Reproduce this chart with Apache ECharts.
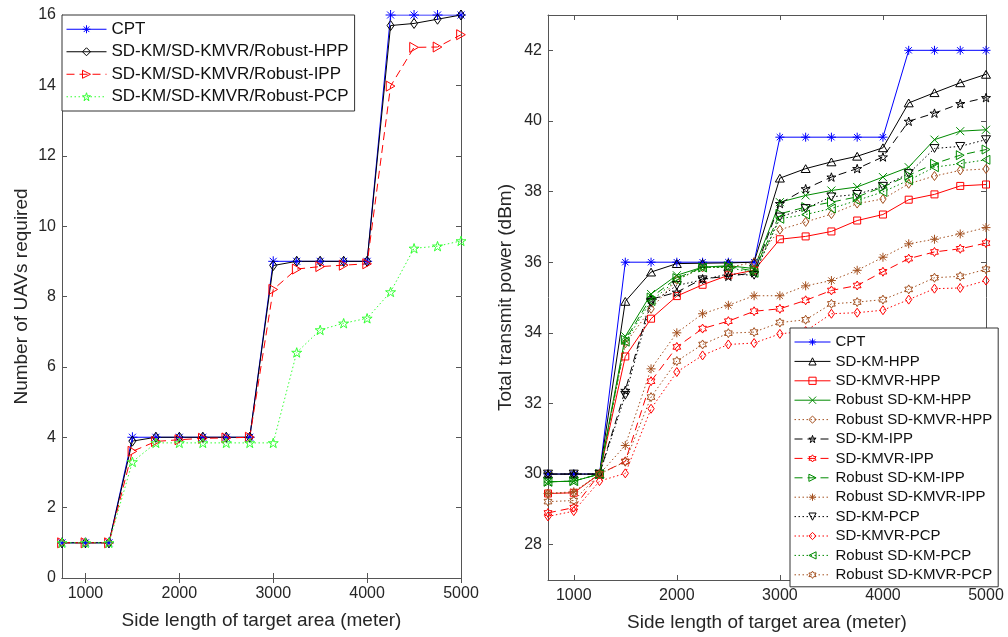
<!DOCTYPE html>
<html>
<head>
<meta charset="utf-8">
<script src="https://cdn.jsdelivr.net/npm/echarts@6/dist/echarts.min.js"></script>
<style>
  html, body { margin: 0; padding: 0; background: #fff; }
  #chart { width: 1008px; height: 637px; }
</style>
</head>
<body>
<div id="chart"></div>
<script>
// Side length of the target area (meter)
const sideLength = [750, 1000, 1250, 1500, 1750, 2000, 2250, 2500, 2750, 3000, 3250, 3500, 3750, 4000, 4250, 4500, 4750, 5000];
const xTicks = [1000, 2000, 3000, 4000, 5000];
const uavTicks = [0, 2, 4, 6, 8, 10, 12, 14, 16];
const powerTicks = [28, 30, 32, 34, 36, 38, 40, 42];

// Number of UAVs required
const uavCPT = [1, 1, 1, 4, 4, 4, 4, 4, 4, 9, 9, 9, 9, 9, 16, 16, 16, 16];
const uavHPP = [1, 1, 1, 3.89, 4, 4, 4, 4, 4, 8.88, 9, 9, 9, 9, 15.7, 15.76, 15.88, 16];
const uavIPP = [1, 1, 1, 3.6, 3.88, 3.93, 3.97, 3.98, 4, 8.2, 8.78, 8.85, 8.89, 8.93, 13.98, 15.08, 15.09, 15.44];
const uavPCP = [1, 1, 1, 3.3, 3.84, 3.84, 3.84, 3.84, 3.84, 3.84, 6.41, 7.05, 7.24, 7.38, 8.13, 9.37, 9.43, 9.58];

// Total transmit power (dBm)
const pwrCPT = [30, 30, 30, 36, 36, 36, 36, 36, 36, 39.54, 39.54, 39.54, 39.54, 39.54, 42, 42, 42, 42];
const pwrKmHPP = [30, 30, 30, 34.89, 35.72, 35.96, 35.97, 35.98, 36.0, 38.38, 38.65, 38.84, 39.0, 39.24, 40.51, 40.8, 41.08, 41.32];
const pwrKmvrHPP = [29.45, 29.47, 30, 33.33, 34.4, 35.04, 35.36, 35.63, 35.77, 36.65, 36.73, 36.87, 37.18, 37.35, 37.77, 37.92, 38.16, 38.2];
const pwrRKmHPP = [29.78, 29.8, 30, 33.9, 35.1, 35.63, 35.86, 35.9, 35.82, 37.7, 37.89, 38.03, 38.13, 38.41, 38.69, 39.47, 39.71, 39.75];
const pwrRKmvrHPP = [29.45, 29.47, 30, 33.7, 34.68, 35.5, 35.85, 35.85, 36.0, 36.92, 37.14, 37.36, 37.66, 37.79, 38.22, 38.44, 38.6, 38.64];
const pwrKmIPP = [30, 30, 30, 32.37, 34.95, 35.15, 35.53, 35.6, 35.7, 37.66, 38.08, 38.41, 38.65, 38.98, 39.99, 40.22, 40.49, 40.66];
const pwrKmvrIPP = [28.9, 29.05, 30, 30.36, 32.63, 33.6, 34.12, 34.33, 34.61, 34.68, 34.92, 35.2, 35.34, 35.73, 36.1, 36.29, 36.38, 36.54];
const pwrRKmIPP = [29.78, 29.8, 30, 33.8, 35.0, 35.55, 35.85, 35.88, 35.75, 37.37, 37.56, 37.7, 37.85, 38.13, 38.46, 38.79, 39.03, 39.19];
const pwrRKmvrIPP = [29.45, 29.5, 30, 30.81, 32.98, 34.0, 34.54, 34.78, 35.05, 35.05, 35.33, 35.48, 35.77, 36.14, 36.52, 36.65, 36.8, 36.98];
const pwrKmPCP = [30, 30, 30, 32.23, 34.85, 35.34, 35.5, 35.67, 35.63, 37.28, 37.52, 37.85, 37.92, 38.15, 38.51, 39.22, 39.28, 39.47];
const pwrKmvrPCP = [28.8, 28.95, 29.8, 30.02, 31.85, 32.89, 33.36, 33.67, 33.71, 33.97, 34.05, 34.54, 34.57, 34.64, 34.94, 35.25, 35.27, 35.48];
const pwrRKmPCP = [29.78, 29.8, 30, 33.75, 34.9, 35.5, 35.85, 35.85, 35.7, 37.23, 37.35, 37.52, 37.75, 37.99, 38.32, 38.69, 38.79, 38.9];
const pwrRKmvrPCP = [29.22, 29.25, 30, 30.35, 32.18, 33.2, 33.67, 33.99, 34.02, 34.29, 34.37, 34.82, 34.87, 34.94, 35.23, 35.56, 35.6, 35.8];

// Marker outlines
const SYM = {
  asterisk: 'path://M5,0L5,10M0,5L10,5M1.5,1.5L8.5,8.5M1.5,8.5L8.5,1.5',
  cross: 'path://M0,0L10,10M0,10L10,0',
  diamond: 'path://M3.5,0L7,5L3.5,10L0,5Z',
  square: 'path://M0,0L10,0L10,10L0,10Z',
  up: 'path://M5,0L10,8.66L0,8.66Z',
  down: 'path://M0,0L10,0L5,8.66Z',
  right: 'path://M0,0L8.66,5L0,10Z',
  left: 'path://M8.66,0L0,5L8.66,10Z',
  pentagram: 'path://M5,0L6.123,3.455L9.755,3.455L6.817,5.59L7.939,9.045L5,6.91L2.061,9.045L3.183,5.59L0.245,3.455L3.877,3.455Z',
  hexagram: 'path://M5,0L6.443,2.5L9.33,2.5L7.887,5L9.33,7.5L6.443,7.5L5,10L3.557,7.5L0.67,7.5L2.113,5L0.67,2.5L3.557,2.5Z'
};

const BLUE = '#0000ff', BLACK = '#000000', RED = '#ff0000', GREEN = '#008a00', BROWN = '#a4501f', LIME = '#33ff33';
const DASH = [8, 5], DOT = [1.5, 2.5];
const FONT = 'Liberation Sans, Arial, Helvetica, sans-serif';
const AXIS_COLOR = '#555555';
const TEXT_COLOR = '#262626';
const CLEAR = 'rgba(255,255,255,0)';

function pairs(values) { return sideLength.map((x, i) => [x, values[i]]); }

function line(name, values, color, symbol, size, type, grid) {
  const ax = grid === 0 ? 0 : 2;
  return {
    name, type: 'line', xAxisIndex: ax, yAxisIndex: ax,
    data: pairs(values),
    symbol, symbolSize: size, symbolKeepAspect: true,
    showAllSymbol: true,
    lineStyle: { color, width: 1, type },
    itemStyle: { color: CLEAR, borderColor: color, borderWidth: 1 },
    emphasis: { disabled: true },
    animation: false
  };
}

function xAxisPair(grid) {
  const base = { gridIndex: grid, type: 'value', min: 750, max: 5000, splitLine: { show: false },
    axisLine: { lineStyle: { color: AXIS_COLOR, width: 1 } } };
  return [
    Object.assign({}, base, {
      position: 'bottom',
      name: 'Side length of target area (meter)', nameLocation: 'middle', nameGap: 33,
      nameTextStyle: { fontFamily: FONT, fontSize: 19, color: TEXT_COLOR },
      axisTick: { inside: true, length: 5, customValues: xTicks, lineStyle: { color: AXIS_COLOR } },
      axisLabel: { customValues: xTicks, formatter: v => String(v), fontFamily: FONT, fontSize: 16, color: TEXT_COLOR, margin: 8 }
    }),
    Object.assign({}, base, {
      position: 'top',
      axisTick: { inside: true, length: 5, customValues: xTicks, lineStyle: { color: AXIS_COLOR } },
      axisLabel: { show: false }
    })
  ];
}

function yAxisPair(grid, min, max, ticks, name) {
  const base = { gridIndex: grid, type: 'value', min, max, splitLine: { show: false },
    axisLine: { show: true, lineStyle: { color: AXIS_COLOR, width: 1 } } };
  return [
    Object.assign({}, base, {
      position: 'left',
      name, nameLocation: 'middle', nameGap: grid === 0 ? 31 : 33,
      nameTextStyle: { fontFamily: FONT, fontSize: 19, color: TEXT_COLOR },
      axisTick: { show: true, inside: true, length: 5, customValues: ticks, lineStyle: { color: AXIS_COLOR } },
      axisLabel: { customValues: ticks, formatter: v => String(v), fontFamily: FONT, fontSize: 16, color: TEXT_COLOR, margin: 6 }
    }),
    Object.assign({}, base, {
      position: 'right',
      axisTick: { show: true, inside: true, length: 5, customValues: ticks, lineStyle: { color: AXIS_COLOR } },
      axisLabel: { show: false }
    })
  ];
}

const leftSeries = [
  line('CPT', uavCPT, BLUE, SYM.asterisk, 10, 'solid', 0),
  line('SD-KM/SD-KMVR/Robust-HPP', uavHPP, BLACK, SYM.diamond, 10, 'solid', 0),
  line('SD-KM/SD-KMVR/Robust-IPP', uavIPP, RED, SYM.right, 10, DASH, 0),
  line('SD-KM/SD-KMVR/Robust-PCP', uavPCP, LIME, SYM.pentagram, 10, DOT, 0)
];

const rightSeries = [
  line('CPT', pwrCPT, BLUE, SYM.asterisk, 9, 'solid', 1),
  line('SD-KM-HPP', pwrKmHPP, BLACK, SYM.up, 9, 'solid', 1),
  line('SD-KMVR-HPP', pwrKmvrHPP, RED, SYM.square, 7, 'solid', 1),
  line('Robust SD-KM-HPP', pwrRKmHPP, GREEN, SYM.cross, 8, 'solid', 1),
  line('Robust SD-KMVR-HPP', pwrRKmvrHPP, BROWN, SYM.diamond, 9, DOT, 1),
  line('SD-KM-IPP', pwrKmIPP, BLACK, SYM.pentagram, 9, DASH, 1),
  line('SD-KMVR-IPP', pwrKmvrIPP, RED, SYM.hexagram, 9, DASH, 1),
  line('Robust SD-KM-IPP', pwrRKmIPP, GREEN, SYM.right, 9, DASH, 1),
  line('Robust SD-KMVR-IPP', pwrRKmvrIPP, BROWN, SYM.asterisk, 9, DOT, 1),
  line('SD-KM-PCP', pwrKmPCP, BLACK, SYM.down, 9, DOT, 1),
  line('SD-KMVR-PCP', pwrKmvrPCP, RED, SYM.diamond, 9, DOT, 1),
  line('Robust SD-KM-PCP', pwrRKmPCP, GREEN, SYM.left, 9, DOT, 1),
  line('Robust SD-KMVR-PCP', pwrRKmvrPCP, BROWN, SYM.hexagram, 9, DOT, 1)
];

const chart = echarts.init(document.getElementById('chart'), null, { renderer: 'canvas' });
const xa0 = xAxisPair(0), xa1 = xAxisPair(1);
const ya0 = yAxisPair(0, 0, 16, uavTicks, 'Number of UAVs required');
const ya1 = yAxisPair(1, 27, 43, powerTicks, 'Total transmit power (dBm)');

const legendItemStyle = { color: CLEAR, borderColor: 'inherit', borderWidth: 1 };
const legendLineStyle = { width: 1, color: 'inherit', type: 'inherit' };

chart.setOption({
  backgroundColor: '#ffffff',
  animation: false,
  grid: [
    { left: 62, top: 15, width: 399, height: 563 },
    { left: 548, top: 15, width: 438, height: 565 }
  ],
  xAxis: [xa0[0], xa0[1], xa1[0], xa1[1]],
  yAxis: [ya0[0], ya0[1], ya1[0], ya1[1]],
  legend: [
    {
      data: leftSeries.map(s => s.name),
      orient: 'vertical', left: 62, top: 15,
      backgroundColor: '#ffffff', borderColor: '#333333', borderWidth: 1,
      padding: [5, 6, 5, 4], itemWidth: 40, itemHeight: 10, itemGap: 4,
      itemStyle: legendItemStyle, lineStyle: legendLineStyle,
      textStyle: { fontFamily: FONT, fontSize: 17, color: '#111', lineHeight: 18.5 },
      selectedMode: false
    },
    {
      data: rightSeries.map(s => s.name),
      orient: 'vertical', left: 790, top: 328,
      backgroundColor: '#ffffff', borderColor: '#333333', borderWidth: 1,
      padding: [6, 6, 4, 4], itemWidth: 36, itemHeight: 9, itemGap: 3.4,
      itemStyle: legendItemStyle, lineStyle: legendLineStyle,
      textStyle: { fontFamily: FONT, fontSize: 15, color: '#111', lineHeight: 16 },
      selectedMode: false
    }
  ],
  series: leftSeries.concat(rightSeries)
});
</script>
</body>
</html>
